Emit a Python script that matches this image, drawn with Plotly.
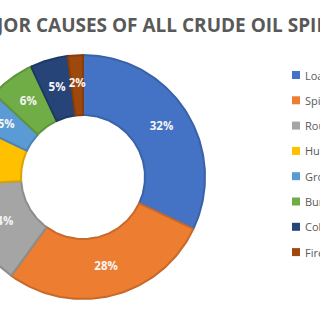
import numpy as np
import plotly.graph_objects as go

title = "MAJOR CAUSES OF ALL CRUDE OIL SPILLS"
categories = ["Loading/Discharging", "Spills from Pipelines", "Routine Operations",
              "Hull Failure", "Grounding", "Bunkering", "Collision", "Fire & Explosion"]
values = [32, 28, 14, 8, 5, 6, 5, 2]
labels = ["32%", "28%", "14%", "8%", "5%", "6%", "5%", "2%"]
colors = ["#4472C4", "#ED7D31", "#A5A5A5", "#FFC000", "#5B9BD5", "#70AD47", "#264478", "#9E480E"]
edges = ["#3A62A8", "#C8692A", "#8D8D8D", "#D9A300", "#4E84B5", "#5F933C", "#1F3963", "#863D0C"]

W, H = 320, 320
cx_px, cy_px = 83, 177      # centre of donut in pixels
r_out, r_in, r_lab = 122, 62, 93

fig = go.Figure()
vals = np.array(values, dtype=float)
frac = vals / vals.sum()
ends = np.cumsum(frac) * 2 * np.pi
starts = ends - frac * 2 * np.pi

for i, (a0, a1) in enumerate(zip(starts, ends)):
    t = np.linspace(a0, a1, 80)
    xo, yo = r_out * np.sin(t), r_out * np.cos(t)
    xi, yi = r_in * np.sin(t[::-1]), r_in * np.cos(t[::-1])
    xs = np.concatenate([xo, xi, xo[:1]])
    ys = np.concatenate([yo, yi, yo[:1]])
    fig.add_trace(go.Scatter(x=xs, y=ys, mode="lines", fill="toself",
                             fillcolor=colors[i], line=dict(color=edges[i], width=2),
                             showlegend=False, hoverinfo="text", text=categories[i]))

mid = (starts + ends) / 2
fig.add_trace(go.Scatter(x=r_lab * np.sin(mid), y=r_lab * np.cos(mid), mode="text",
                         text=["<b>%s</b>" % s for s in labels],
                         textfont=dict(family="Open Sans", size=11.5, color="#F5F5F5"),
                         showlegend=False, hoverinfo="skip"))

# title
fig.add_annotation(x=157 / W, y=1 - 25 / H, xref="paper", yref="paper",
                   text="<b>%s</b>" % title, showarrow=False, xanchor="center", yanchor="middle",
                   font=dict(family="Open Sans", size=19, color="#595959"))

# legend
for i, name in enumerate(categories):
    yc = 75 + i * 25.3
    fig.add_shape(type="rect", xref="paper", yref="paper",
                  x0=292 / W, x1=300 / W, y0=1 - (yc + 4) / H, y1=1 - (yc - 4) / H,
                  fillcolor=colors[i], line=dict(width=0))
    fig.add_annotation(x=303 / W, y=1 - yc / H, xref="paper", yref="paper", text=name,
                       showarrow=False, xanchor="left", yanchor="middle",
                       font=dict(family="Open Sans", size=11, color="#595959"))

fig.update_layout(
    width=W, height=H,
    margin=dict(l=0, r=0, t=0, b=0, autoexpand=False),
    paper_bgcolor="white", plot_bgcolor="white",
    xaxis=dict(range=[-cx_px, W - cx_px], visible=False, fixedrange=True),
    yaxis=dict(range=[-(H - cy_px), cy_px], visible=False, fixedrange=True),
    showlegend=False,
)
fig.write_html("out.html")
